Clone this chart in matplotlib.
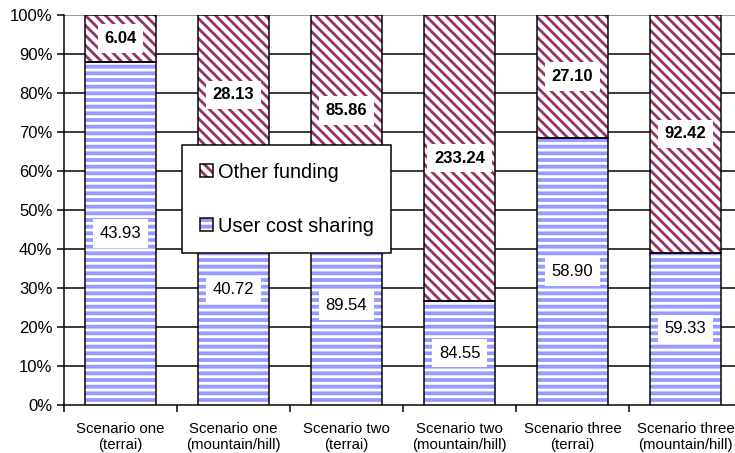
import matplotlib
matplotlib.use("Agg")
import matplotlib.pyplot as plt
from matplotlib.patches import Patch
from matplotlib.legend_handler import HandlerTuple
import numpy as np

plt.rcParams['font.family'] = ['Liberation Sans', 'DejaVu Sans']
plt.rcParams['hatch.linewidth'] = 1.7

categories = ["Scenario one\n(terrai)", "Scenario one\n(mountain/hill)",
              "Scenario two\n(terrai)", "Scenario two\n(mountain/hill)",
              "Scenario three\n(terrai)", "Scenario three\n(mountain/hill)"]
user_cost = [43.93, 40.72, 89.54, 84.55, 58.90, 59.33]
other_funding = [6.04, 28.13, 85.86, 233.24, 27.10, 92.42]
y_ticks = [0, 10, 20, 30, 40, 50, 60, 70, 80, 90, 100]

DPI = 120
W, H = 735, 453
fig = plt.figure(figsize=(W / DPI, H / DPI), dpi=DPI)
ax = fig.add_axes([64 / W, (H - 405) / H, 678 / W, 390 / H])

user = np.array(user_cost)
other = np.array(other_funding)
total = user + other
user_pct = user / total * 100
other_pct = other / total * 100
x = np.arange(len(categories))
width = 0.62

blue = '#9999ff'
maroon = '#993366'
user_hatch = '---'
other_hatch = '\\\\\\\\'

# blue fill with white horizontal stripes
ax.bar(x, user_pct, width, color=blue, edgecolor='white',
       hatch=user_hatch, linewidth=0, zorder=3)
# white fill with maroon diagonal stripes
ax.bar(x, other_pct, width, bottom=user_pct, color='white',
       edgecolor=maroon, hatch=other_hatch, linewidth=0, zorder=3)
# outlines
ax.bar(x, user_pct, width, color='none', edgecolor='black', linewidth=0.9, zorder=4)
ax.bar(x, other_pct, width, bottom=user_pct, color='none', edgecolor='black',
       linewidth=0.9, zorder=4)

for i in range(len(x)):
    ax.text(x[i], user_pct[i] / 2, f"{user[i]:.2f}", ha='center', va='center',
            fontsize=10, zorder=5,
            bbox=dict(facecolor='white', edgecolor='none', pad=4))
    ax.text(x[i], user_pct[i] + other_pct[i] / 2, f"{other[i]:.2f}",
            ha='center', va='center', fontsize=10, fontweight='bold', zorder=5,
            bbox=dict(facecolor='white', edgecolor='none', pad=4))

ax.set_xlim(-0.5, len(x) - 0.5)
ax.set_ylim(0, 100)
ax.set_yticks(y_ticks)
ax.set_yticklabels([f"{v}%" for v in y_ticks], fontsize=10)
for v in y_ticks[1:-1]:
    ax.axhline(v, color='black', linewidth=0.9, zorder=1)
ax.axhline(100, color='#999999', linewidth=1.2, zorder=1)

ax.set_xticks(x)
ax.set_xticklabels(categories, fontsize=9)
ax.tick_params(axis='x', length=0, pad=10)
ax.set_xticks(np.arange(len(x) + 1) - 0.5, minor=True)
ax.tick_params(axis='x', which='minor', length=4, width=0.9, direction='out')
ax.tick_params(axis='y', length=4, width=0.9, direction='out', pad=3)

for s in ['top', 'right']:
    ax.spines[s].set_visible(False)
ax.spines['left'].set_linewidth(0.9)
ax.spines['bottom'].set_linewidth(0.9)

h_other = (Patch(facecolor='white', edgecolor=maroon, hatch=other_hatch, linewidth=0),
           Patch(facecolor='none', edgecolor='black', linewidth=0.9))
h_user = (Patch(facecolor=blue, edgecolor='white', hatch=user_hatch, linewidth=0),
          Patch(facecolor='none', edgecolor='black', linewidth=0.9))
leg = ax.legend([h_other, h_user], ['Other funding', 'User cost sharing'],
                handler_map={tuple: HandlerTuple(ndivide=1, pad=0)},
                loc='upper left', bbox_to_anchor=(182 / W, 1 - 145 / H),
                bbox_transform=fig.transFigure, fontsize=12, frameon=True,
                fancybox=False, framealpha=1, borderpad=0.875, labelspacing=1.75,
                handlelength=0.65, handleheight=0.65, handletextpad=0.25,
                borderaxespad=0)
leg.get_frame().set_edgecolor('black')
leg.get_frame().set_linewidth(0.9)
leg.set_zorder(10)

fig.savefig('out.png', dpi=DPI)
